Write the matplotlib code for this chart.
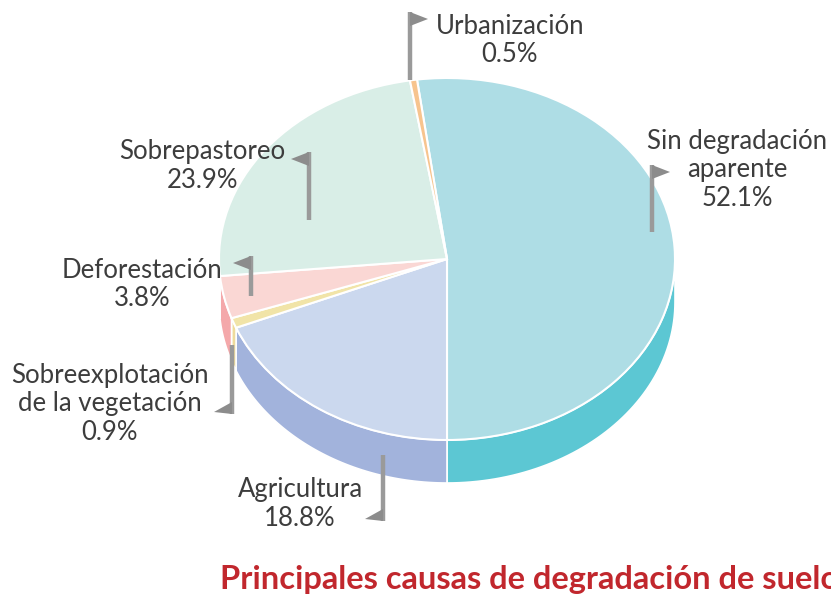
import numpy as np
import matplotlib.pyplot as plt
from matplotlib.patches import Polygon

labels = ['Sin degradación\naparente', 'Agricultura', 'Sobreexplotación\nde la vegetación',
          'Deforestación', 'Sobrepastoreo', 'Urbanización']
values = [52.1, 18.8, 0.9, 3.8, 23.9, 0.5]
top_colors = ['#aedde5', '#cbd8ee', '#f1e4a8', '#fad7d4', '#d9eee7', '#f7c48e']
side_colors = ['#5cc7d3', '#a2b3dc', '#eedb9c', '#f4a8aa', '#c4e2d8', '#f0b070']

title = 'Principales causas de degradación de suelo'

W, H = 831, 600
fig = plt.figure(figsize=(W / 100, H / 100), dpi=100)

# pie geometry in pixels
cx, cy, rx, ry, depth = 447, 259, 228, 181, 43
d = depth / ry

ax = fig.add_axes([(cx - rx) / W, 1 - (cy + ry + depth) / H, 2 * rx / W, (2 * ry + depth) / H])

total = sum(values)
start = -90 + 360 * values[0] / total
ax.pie(values, colors=top_colors, startangle=start, counterclock=False,
       wedgeprops=dict(edgecolor='white', linewidth=1.5, zorder=3))

# side walls (front half only)
a = start
for v, c in zip(values, side_colors):
    a2 = a - 360 * v / total
    lo, hi = a2, a
    for shift in (0, 360, -360):
        l, h = max(lo + shift, -180), min(hi + shift, 0)
        if h > l:
            t = np.radians(np.linspace(l, h, 60))
            xs = np.concatenate([np.cos(t), np.cos(t[::-1])])
            ys = np.concatenate([np.sin(t), np.sin(t[::-1]) - d])
            ax.add_patch(Polygon(np.column_stack([xs, ys]), closed=True, facecolor=c,
                                 edgecolor='white', linewidth=1.2, zorder=1))
    a = a2

ax.set_aspect('auto')
ax.set_xlim(-1, 1)
ax.set_ylim(-1 - d, 1)
ax.axis('off')

# overlay for labels and flags, pixel coordinates
ov = fig.add_axes([0, 0, 1, 1])
ov.set_xlim(0, W)
ov.set_ylim(H, 0)
ov.axis('off')

txt = dict(color='#3d3d3d', fontsize=18.5, family='Lato', ha='center', va='center', linespacing=1.15)
flag = '#8c8c8c'


def draw_flag(x, y0, y1, side, at_top):
    ov.plot([x, x], [y0, y1], color='#9a9a9a', lw=3.2, solid_capstyle='butt', zorder=5)
    sgn = 1 if side == 'right' else -1
    if at_top:
        pts = [(x, y0), (x, y0 + 14), (x + sgn * 18, y0 + 7)]
    else:
        pts = [(x, y1), (x, y1 - 12), (x + sgn * 18, y1 - 2)]
    ov.add_patch(Polygon(pts, closed=True, facecolor=flag, edgecolor='none', zorder=5))


ov.text(510, 40, labels[5] + '\n%.1f%%' % values[5], **txt)
draw_flag(410, 12, 80, 'right', True)

ov.text(737, 170, labels[0] + '\n%.1f%%' % values[0], **txt)
draw_flag(652, 165, 232, 'right', True)

ov.text(202, 166, labels[4] + '\n%.1f%%' % values[4], **txt)
draw_flag(309, 152, 220, 'left', True)

ov.text(142, 284, labels[3] + '\n%.1f%%' % values[3], **txt)
draw_flag(251, 256, 296, 'left', True)

ov.text(110, 404, labels[2] + '\n%.1f%%' % values[2], **txt)
draw_flag(232, 345, 414, 'left', False)

ov.text(300, 504, labels[1] + '\n%.1f%%' % values[1], **txt)
draw_flag(383, 455, 521, 'left', False)

ov.text(220, 580, title, color='#c1272d', fontsize=23.5, family='Lato', fontweight='bold',
        ha='left', va='center')

fig.savefig('out.png', dpi=100)
